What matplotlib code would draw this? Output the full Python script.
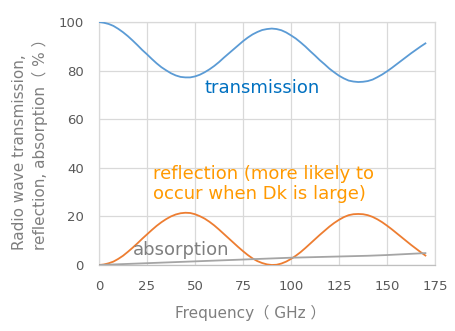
import matplotlib
matplotlib.use("Agg")
import matplotlib.pyplot as plt

# Frequency sweep (GHz) for transmission and reflection
freq = [0, 2.5, 5, 7.5, 10, 12.5, 15, 17.5, 20, 22.5, 25, 27.5, 30, 32.5, 35,
        37.5, 40, 42.5, 45, 47.5, 50, 52.5, 55, 57.5, 60, 62.5, 65, 67.5, 70,
        72.5, 75, 77.5, 80, 82.5, 85, 87.5, 90, 92.5, 95, 97.5, 100, 102.5,
        105, 107.5, 110, 112.5, 115, 117.5, 120, 122.5, 125, 127.5, 130,
        132.5, 135, 137.5, 140, 142.5, 145, 147.5, 150, 152.5, 155, 157.5,
        160, 162.5, 165, 167.5, 170]

# Reflection (%)
reflection = [0.0, 0.2, 0.7, 1.4, 2.5, 3.8, 5.4, 7.1, 8.9, 10.8, 12.6, 14.4,
              16.1, 17.6, 18.9, 20.0, 20.8, 21.3, 21.5, 21.4, 20.9, 20.1, 19.1,
              17.8, 16.3, 14.6, 12.8, 11.0, 9.2, 7.4, 5.7, 4.1, 2.7, 1.6, 0.8,
              0.25, 0.0, 0.1, 0.6, 1.4, 2.5, 3.8, 5.3, 7.0, 8.8, 10.6, 12.4,
              14.1, 15.8, 17.3, 18.6, 19.7, 20.5, 20.9, 21.0, 20.9, 20.5, 19.8,
              18.8, 17.6, 16.2, 14.7, 13.1, 11.5, 9.9, 8.3, 6.8, 5.3, 3.9]

# Transmission (%)
transmission = [100.0, 99.7, 99.2, 98.4, 97.2, 95.8, 94.2, 92.4, 90.5, 88.5,
                86.7, 84.8, 83.0, 81.4, 80.1, 78.9, 78.0, 77.4, 77.2, 77.2,
                77.6, 78.3, 79.3, 80.5, 81.9, 83.5, 85.3, 87.0, 88.7, 90.4,
                92.1, 93.6, 94.9, 95.9, 96.7, 97.1, 97.3, 97.1, 96.6, 95.7,
                94.5, 93.2, 91.6, 89.9, 88.0, 86.2, 84.3, 82.6, 80.8, 79.3,
                77.9, 76.8, 75.9, 75.5, 75.3, 75.4, 75.7, 76.3, 77.3, 78.4,
                79.7, 81.1, 82.6, 84.1, 85.6, 87.1, 88.5, 89.9, 91.2]

# Absorption (%), sampled every 10 GHz
freq_abs = [0, 10, 20, 30, 40, 50, 60, 70, 80, 90, 100, 110, 120, 130, 140,
            150, 160, 170]
absorption = [0.0, 0.3, 0.6, 0.9, 1.2, 1.5, 1.8, 2.1, 2.4, 2.7, 3.0, 3.2, 3.4,
              3.6, 3.8, 4.1, 4.5, 4.9]

x_ticks = [0, 25, 50, 75, 100, 125, 150, 175]
y_ticks = [0, 20, 40, 60, 80, 100]

fam = ["DejaVu Sans", "Noto Sans CJK JP"]
plt.rcParams["font.family"] = fam

fig = plt.figure(figsize=(4.56, 3.31), dpi=100)
ax = fig.add_axes([99 / 456, 1 - 265 / 331, 336 / 456, 243 / 331])

ax.plot(freq, transmission, color="#5B9BD5", lw=1.3, zorder=3)
ax.plot(freq, reflection, color="#ED7D31", lw=1.3, zorder=3)
ax.plot(freq_abs, absorption, color="#A5A5A5", lw=1.3, zorder=3)

ax.set_xlim(0, 175)
ax.set_ylim(0, 100)
ax.set_xticks(x_ticks)
ax.set_yticks(y_ticks)
ax.grid(True, color="#D9D9D9", lw=0.9)
ax.set_axisbelow(True)
for s in ax.spines.values():
    s.set_color("#D9D9D9")
    s.set_linewidth(0.9)
ax.spines["bottom"].set_color("#BFBFBF")
ax.tick_params(length=0, labelsize=9.5, labelcolor="#595959")
ax.tick_params(axis="x", pad=11)
ax.tick_params(axis="y", pad=11)

ax.text(55, 73, "transmission", color="#0070C0", fontsize=13, va="center", ha="left")
ax.text(28, 33.3, "reflection (more likely to\noccur when Dk is large)",
        color="#FF9900", fontsize=13, va="center", ha="left", linespacing=1.15)
ax.text(17.5, 6.3, "absorption", color="#7F7F7F", fontsize=13, va="center", ha="left")

fig.text(250 / 456, 1 - 313 / 331, "Frequency（ GHz ）", color="#7F7F7F",
         fontsize=11, ha="center", va="center")
fig.text(30 / 456, 1 - 141 / 331, "Radio wave transmission,\nreflection, absorption（ % ）",
         color="#7F7F7F", fontsize=11, ha="center", va="center", rotation=90,
         multialignment="left", linespacing=1.3)

fig.savefig("out.png", dpi=100)
